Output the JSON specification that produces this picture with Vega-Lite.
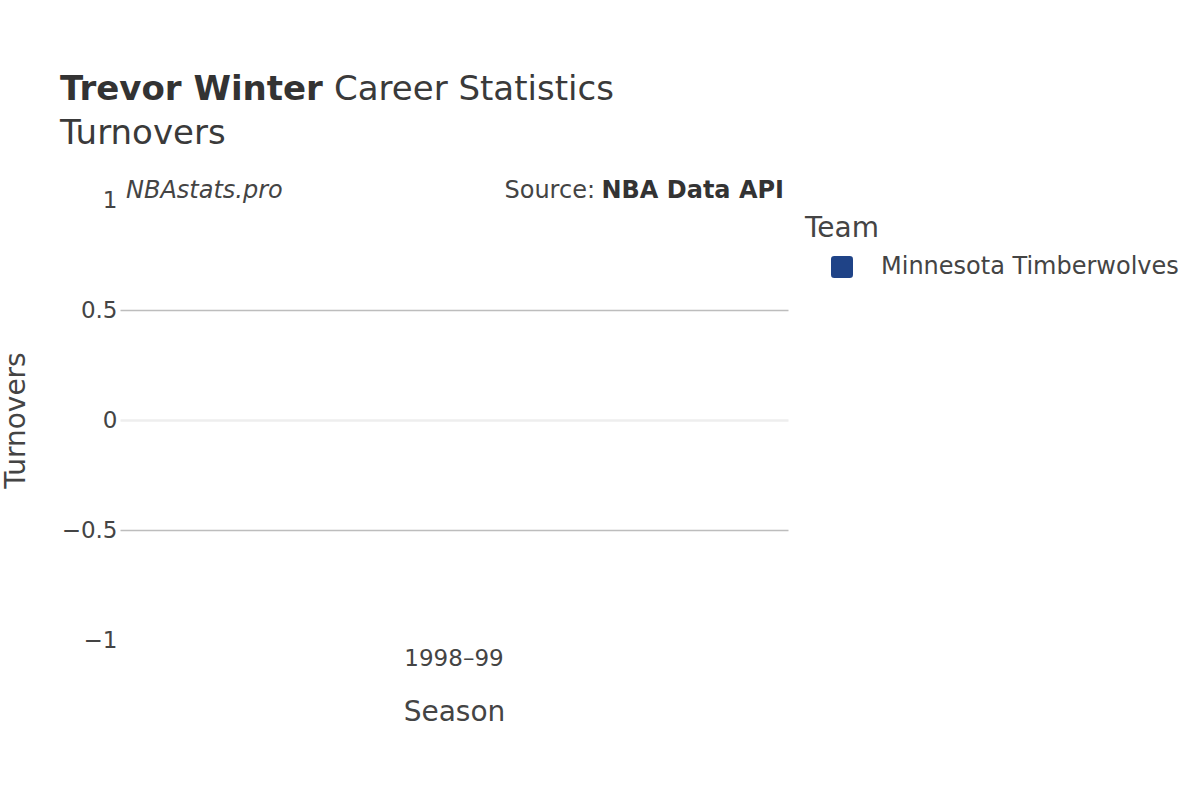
{
  "$schema": "https://vega.github.io/schema/vega-lite/v6.json",
  "width": 668,
  "height": 440,
  "autosize": {"type": "none"},
  "padding": {"left": 120, "top": 200, "right": 412, "bottom": 160},
  "background": "white",
  "data": {
    "values": [
      {"Season": "1998–99", "Team": "Minnesota Timberwolves", "Turnovers": 0}
    ]
  },
  "layer": [
    {
      "mark": {"type": "bar", "width": {"band": 0.8}},
      "encoding": {
        "x": {
          "field": "Season",
          "type": "nominal",
          "scale": {"paddingInner": 0, "paddingOuter": 0},
          "axis": {
            "title": "Season",
            "labelAngle": 0,
            "ticks": false,
            "domain": false,
            "labelPadding": 7,
            "titlePadding": 28
          }
        },
        "y": {
          "field": "Turnovers",
          "type": "quantitative",
          "scale": {"domain": [-1, 1]},
          "axis": {
            "title": "Turnovers",
            "values": [-1, -0.5, 0, 0.5, 1],
            "format": "~g",
            "labelExpr": "replace(datum.label, '-', '−')",
            "ticks": false,
            "domain": false,
            "labelPadding": 3,
            "titlePadding": 31,
            "gridColor": {"condition": {"test": "datum.value === 0", "value": "#eeeeee"}, "value": "#bdbdbd"},
            "gridWidth": {"condition": {"test": "datum.value === 0", "value": 2.5}, "value": 1.5},
            "gridOpacity": {"condition": {"test": "abs(datum.value) === 1", "value": 0}, "value": 1}
          }
        },
        "color": {
          "field": "Team",
          "type": "nominal",
          "scale": {"range": ["#1f4387"]},
          "legend": {
            "title": "Team",
            "orient": "none",
            "legendX": 685,
            "legendY": 15,
            "symbolType": "M -0.7 -1 H 0.7 Q 1 -1 1 -0.7 V 0.7 Q 1 1 0.7 1 H -0.7 Q -1 1 -1 0.7 V -0.7 Q -1 -1 -0.7 -1 Z",
            "symbolSize": 484,
            "symbolOffset": 25,
            "symbolStrokeWidth": 0,
            "labelOffset": 27,
            "labelLimit": 400,
            "titlePadding": 12
          }
        }
      }
    },
    {
      "mark": {"type": "text", "align": "left", "baseline": "alphabetic", "dx": -60, "dy": -100, "fontSize": 34, "font": "DejaVu Sans", "fontWeight": "bold", "color": "#333333", "text": "Trevor Winter"},
      "encoding": {
        "x": {"datum": "1998–99", "bandPosition": 0},
        "y": {"datum": 1}
      }
    },
    {
      "mark": {"type": "text", "align": "left", "baseline": "alphabetic", "dx": 214, "dy": -100, "fontSize": 34, "font": "DejaVu Sans", "color": "#3a3a3a", "text": "Career Statistics"},
      "encoding": {
        "x": {"datum": "1998–99", "bandPosition": 0},
        "y": {"datum": 1}
      }
    },
    {
      "mark": {"type": "text", "align": "left", "baseline": "alphabetic", "dx": -60, "dy": -56, "fontSize": 34, "font": "DejaVu Sans", "color": "#3a3a3a", "text": "Turnovers"},
      "encoding": {
        "x": {"datum": "1998–99", "bandPosition": 0},
        "y": {"datum": 1}
      }
    },
    {
      "mark": {"type": "text", "align": "left", "baseline": "alphabetic", "dx": 6, "dy": -2, "fontSize": 24, "font": "DejaVu Sans", "fontStyle": "italic", "color": "#444444", "text": "NBAstats.pro"},
      "encoding": {
        "x": {"datum": "1998–99", "bandPosition": 0},
        "y": {"datum": 1}
      }
    },
    {
      "mark": {"type": "text", "align": "right", "baseline": "alphabetic", "dx": -193, "dy": -2, "fontSize": 24, "font": "DejaVu Sans", "color": "#444444", "text": "Source:"},
      "encoding": {
        "x": {"datum": "1998–99", "bandPosition": 1},
        "y": {"datum": 1}
      }
    },
    {
      "mark": {"type": "text", "align": "right", "baseline": "alphabetic", "dx": -4, "dy": -2, "fontSize": 24, "font": "DejaVu Sans", "fontWeight": "bold", "color": "#333333", "text": "NBA Data API"},
      "encoding": {
        "x": {"datum": "1998–99", "bandPosition": 1},
        "y": {"datum": 1}
      }
    }
  ],
  "config": {
    "font": "DejaVu Sans",
    "view": {"stroke": null},
    "axis": {
      "labelFont": "DejaVu Sans",
      "labelFontSize": 23,
      "labelColor": "#444444",
      "titleFont": "DejaVu Sans",
      "titleFontSize": 28,
      "titleFontWeight": "normal",
      "titleColor": "#444444",
      "grid": true
    },
    "axisX": {"grid": false},
    "legend": {
      "titleFont": "DejaVu Sans",
      "titleFontSize": 28,
      "titleFontWeight": "normal",
      "titleColor": "#444444",
      "labelFont": "DejaVu Sans",
      "labelFontSize": 24,
      "labelColor": "#444444"
    }
  }
}
